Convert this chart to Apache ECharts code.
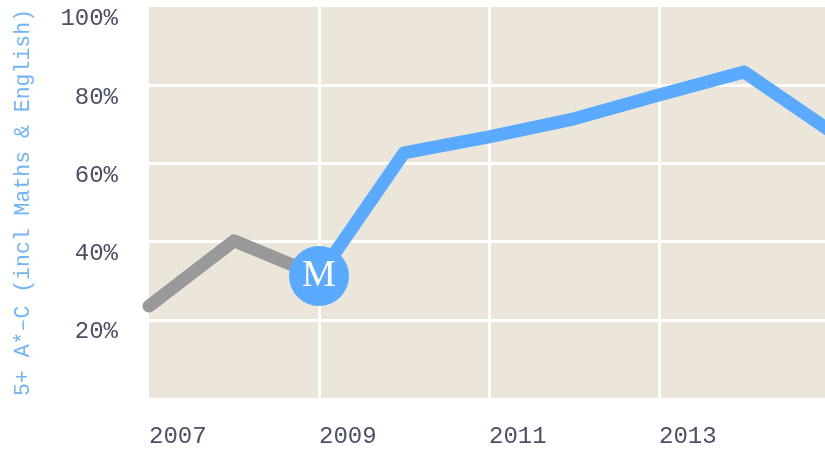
<!DOCTYPE html>
<html>
<head>
<meta charset="utf-8">
<script src="https://cdn.jsdelivr.net/npm/echarts@6/dist/echarts.min.js"></script>
<style>html,body{margin:0;padding:0;background:#fff;}#c{width:825px;height:450px;}</style>
</head>
<body>
<div id="c"></div>
<script>
const years = ['2007','2008','2009','2010','2011','2012','2013','2014','2015'];
const before = [23.5, 40.2, 31.2, null, null, null, null, null, null];
const after = [null, null, 31.2, 62.7, 66.8, 71.4, 77.5, 83.4, 68.5];
const markerPoint = [['2009', 31.2]];
const markerText = 'M';
const yTicks = [0, 20, 40, 60, 80, 100];
const yName = '5+ A*\u2013C (incl Maths & English)';

const chart = echarts.init(document.getElementById('c'), null, {renderer: 'canvas'});
const tickFont = 'Liberation Mono';
chart.setOption({
  animation: false,
  grid: {left: 149, top: 7, width: 680, height: 391, backgroundColor: '#ece6da', show: true, borderWidth: 0,
    containLabel: false, outerBoundsMode: 'none'},
  xAxis: {
    type: 'category', data: years, boundaryGap: false,
    axisLine: {show: false}, axisTick: {show: false},
    axisLabel: {interval: 1, align: 'left', margin: 27, color: '#4b5066', fontFamily: tickFont, fontSize: 24,
      formatter: v => v === '2015' ? '' : v},
    splitLine: {show: true, interval: (i) => i % 2 === 0 && i > 0 && i < 8, lineStyle: {color: '#ffffff', width: 3}}
  },
  yAxis: {
    type: 'value', min: yTicks[0], max: yTicks[yTicks.length - 1], interval: 20,
    name: yName, nameLocation: 'middle', nameRotate: 90, nameGap: 115,
    nameTextStyle: {color: '#72b4f7', fontFamily: tickFont, fontSize: 21.5},
    axisLine: {show: false}, axisTick: {show: false},
    axisLabel: {margin: 31, color: '#4b5066', fontFamily: tickFont, fontSize: 24, verticalAlign: 'top',
      formatter: v => v === 0 ? '' : v + '%'},
    splitLine: {show: true, lineStyle: {color: ['transparent', '#fff', '#fff', '#fff', '#fff', 'transparent'], width: 3}}
  },
  series: [
    {type: 'line', data: before, showSymbol: false, connectNulls: false,
      lineStyle: {color: '#999999', width: 13, cap: 'round', join: 'round'}, z: 2},
    {type: 'line', data: after, showSymbol: false, connectNulls: false,
      lineStyle: {color: '#5aabff', width: 13, cap: 'round', join: 'round'}, z: 3},
    {type: 'scatter', data: markerPoint, symbol: 'circle', symbolSize: 60,
      itemStyle: {color: '#5aabff', opacity: 1}, z: 5,
      label: {show: true, position: 'inside', formatter: markerText, color: '#ffffff',
        fontFamily: 'Liberation Serif', fontSize: 38}}
  ]
});
</script>
</body>
</html>
